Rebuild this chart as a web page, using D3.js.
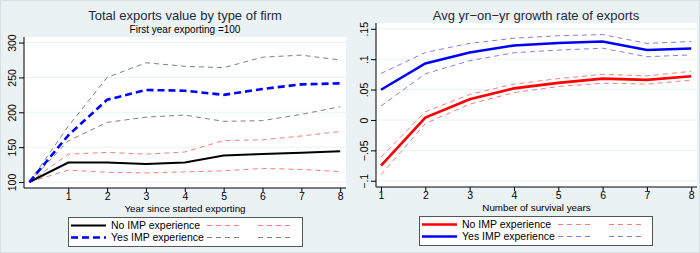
<!DOCTYPE html>
<html>
<head>
<meta charset="utf-8">
<script src="https://cdn.jsdelivr.net/npm/d3@7"></script>
<style>
  body { margin: 0; background: #eaf2f3; }
  svg { display: block; font-family: "Liberation Sans", Arial, sans-serif; }
</style>
</head>
<body>
<svg id="chart"></svg>
<script>
// left panel: index, first year = 100
var yearsL = [0, 1, 2, 3, 4, 5, 6, 7, 8];
var noImpL = [100, 128, 128, 126, 128, 138, 140, 142, 144];
var noImpLoL = [100, 117, 114, 113, 114.5, 116, 119.5, 118, 115];
var noImpHiL = [100, 140, 142.5, 140, 143, 159.5, 160.5, 166, 172.5];
var yesImpL = [100, 167, 218, 232, 231, 225, 233.5, 240, 241.5];
var yesImpLoL = [100, 159, 185.5, 193, 196, 187, 188, 197, 208];
var yesImpHiL = [100, 180, 250, 271, 266, 264, 279, 282, 275];
var yTicksL = [100, 150, 200, 250, 300];
var xTicksL = [1, 2, 3, 4, 5, 6, 7, 8];

// right panel: growth rates
var yearsR = [1, 2, 3, 4, 5, 6, 7, 8];
var noImpR = [-0.075, 0.004, 0.034, 0.052, 0.061, 0.068, 0.066, 0.072];
var noImpLoR = [-0.090, -0.006, 0.026, 0.045, 0.055, 0.0605, 0.059, 0.0655];
var noImpHiR = [-0.061, 0.0135, 0.042, 0.059, 0.068, 0.075, 0.0725, 0.080];
var yesImpR = [0.0497, 0.093, 0.111, 0.1225, 0.1265, 0.129, 0.115, 0.1175];
var yesImpLoR = [0.023, 0.076, 0.0975, 0.1105, 0.115, 0.118, 0.104, 0.107];
var yesImpHiR = [0.0765, 0.111, 0.126, 0.1345, 0.1385, 0.1405, 0.126, 0.129];
var yTicksR = [-0.1, -0.05, 0, 0.05, 0.1, 0.15];
var yTickLabR = ["\u2212.1", "\u2212.05", "0", ".05", ".1", ".15"];
var xTicksR = [1, 2, 3, 4, 5, 6, 7, 8];

var width = 700, height = 253;
var svg = d3.select("#chart").attr("width", width).attr("height", height);

svg.append("rect")
    .attr("x", 0.5).attr("y", 0.5)
    .attr("width", width - 1).attr("height", height - 1)
    .attr("fill", "#eaf2f3")
    .attr("stroke", "#d6dfe2");

function drawPanel(p) {
  var x = d3.scaleLinear().domain(p.xDomain).range([p.left, p.right]);
  var y = d3.scaleLinear().domain(p.yDomain).range([p.bottom, p.top]);
  var g = svg.append("g");

  g.append("rect")
      .attr("x", p.left).attr("y", p.top)
      .attr("width", p.right - p.left).attr("height", p.bottom - p.top)
      .attr("fill", "#fff");

  // grid
  g.selectAll(".grid")
    .data(p.yTicks)
    .enter().append("line")
      .attr("x1", p.left).attr("x2", p.right)
      .attr("y1", function(d) { return y(d); })
      .attr("y2", function(d) { return y(d); })
      .attr("stroke", "#eaf2f3")
      .attr("stroke-width", 1);

  // y axis
  var ya = g.append("g")
      .attr("transform", "translate(" + p.left + ",0)")
      .call(d3.axisLeft(y).tickValues(p.yTicks).tickSize(5)
        .tickFormat(function(d, i) { return p.yLabels ? p.yLabels[i] : d; }));
  ya.select(".domain").attr("stroke", "#000").attr("d", "M0," + p.top + "V" + p.bottom);
  ya.selectAll(".tick line").attr("stroke", "#000");
  ya.selectAll(".tick text")
      .attr("x", null).attr("dy", null)
      .attr("transform", "translate(-8,0) rotate(-90)")
      .attr("text-anchor", "middle")
      .attr("font-size", 10.5)
      .attr("font-family", "Liberation Sans, Arial, sans-serif")
      .attr("fill", "#000");

  // x axis
  var xa = g.append("g")
      .attr("transform", "translate(0," + p.bottom + ")")
      .call(d3.axisBottom(x).tickValues(p.xTicks).tickSize(4));
  xa.select(".domain").attr("stroke", "#000").attr("d", "M" + p.left + ",0H" + p.right);
  xa.selectAll(".tick line").attr("stroke", "#000");
  xa.selectAll(".tick text")
      .attr("y", 5).attr("dy", "0.71em")
      .attr("font-size", 10.5)
      .attr("font-family", "Liberation Sans, Arial, sans-serif")
      .attr("fill", "#000");

  g.append("text")
      .attr("x", (p.left + p.right) / 2).attr("y", p.bottom + 24)
      .attr("text-anchor", "middle")
      .attr("font-size", 9.8)
      .text(p.xTitle);

  // titles
  g.append("text")
      .attr("x", p.titleX).attr("y", 20)
      .attr("text-anchor", "middle")
      .attr("font-size", 13)
      .attr("fill", "#1e2a3a")
      .text(p.title);
  if (p.subtitle) {
    g.append("text")
        .attr("x", p.titleX).attr("y", 33)
        .attr("text-anchor", "middle")
        .attr("font-size", 10)
        .text(p.subtitle);
  }

  var line = d3.line()
      .x(function(d) { return x(d[0]); })
      .y(function(d) { return y(d[1]); });

  p.series.forEach(function(s) {
    g.append("path")
        .datum(d3.zip(p.xs, s.values))
        .attr("fill", "none")
        .attr("stroke", s.color)
        .attr("stroke-width", s.width)
        .attr("stroke-dasharray", s.dash || null)
        .attr("d", line);
  });

  // legend
  var lg = g.append("g");
  lg.append("rect")
      .attr("x", p.legX + 0.5).attr("y", p.legY + 0.5)
      .attr("width", p.legW).attr("height", 29)
      .attr("fill", "#fff")
      .attr("stroke", "#555")
      .attr("stroke-width", 1);
  p.legend.forEach(function(row, i) {
    var ry = p.legY + 8.5 + i * 12;
    row.keys.forEach(function(k, j) {
      var sx = p.legX + [3, 139, 190][j];
      lg.append("line")
          .attr("x1", sx).attr("x2", sx + 35)
          .attr("y1", ry).attr("y2", ry)
          .attr("stroke", k.color)
          .attr("stroke-width", k.width)
          .attr("stroke-dasharray", k.dash || null);
    });
    lg.append("text")
        .attr("x", p.legX + 43).attr("y", ry + 3.5)
        .attr("font-size", 10.5)
        .text(row.label);
  });
}

var blackS = { color: "#000", width: 2 };
var blueDashS = { color: "#0000ff", width: 2.6, dash: "7,4" };
var redCi = { color: "#f08080", width: 1, dash: "5,4" };
var grayCi = { color: "#808080", width: 1, dash: "5,4" };

drawPanel({
  left: 24, right: 346, top: 37, bottom: 188,
  xDomain: [-0.14, 8.15], yDomain: [91.4, 308],
  xs: yearsL, xTicks: xTicksL, yTicks: yTicksL,
  xTitle: "Year since started exporting",
  title: "Total exports value by type of firm",
  subtitle: "First year exporting =100",
  titleX: 185,
  series: [
    Object.assign({ values: noImpLoL }, redCi),
    Object.assign({ values: noImpHiL }, redCi),
    Object.assign({ values: yesImpLoL }, grayCi),
    Object.assign({ values: yesImpHiL }, grayCi),
    Object.assign({ values: noImpL }, blackS),
    Object.assign({ values: yesImpL }, blueDashS)
  ],
  legX: 68, legY: 217, legW: 234,
  legend: [
    { label: "No IMP experience", keys: [blackS, redCi, redCi] },
    { label: "Yes IMP experience", keys: [blueDashS, grayCi, grayCi] }
  ]
});

var redS = { color: "#ff0000", width: 2.6 };
var blueS = { color: "#0000ff", width: 2.6 };
var redCiR = { color: "#f08080", width: 1, dash: "5,4" };
var blueCiR = { color: "#7f7fe6", width: 1, dash: "5,4" };

drawPanel({
  left: 376, right: 697, top: 23, bottom: 187,
  xDomain: [0.887, 8.13], yDomain: [-0.1103, 0.1595],
  xs: yearsR, xTicks: xTicksR, yTicks: yTicksR, yLabels: yTickLabR,
  xTitle: "Number of survival years",
  title: "Avg yr\u2212on\u2212yr growth rate of exports",
  titleX: 536,
  series: [
    Object.assign({ values: noImpLoR }, redCiR),
    Object.assign({ values: noImpHiR }, redCiR),
    Object.assign({ values: yesImpLoR }, blueCiR),
    Object.assign({ values: yesImpHiR }, blueCiR),
    Object.assign({ values: noImpR }, redS),
    Object.assign({ values: yesImpR }, blueS)
  ],
  legX: 419, legY: 216, legW: 233,
  legend: [
    { label: "No IMP experience", keys: [redS, redCiR, redCiR] },
    { label: "Yes IMP experience", keys: [blueS, blueCiR, blueCiR] }
  ]
});
</script>
</body>
</html>
